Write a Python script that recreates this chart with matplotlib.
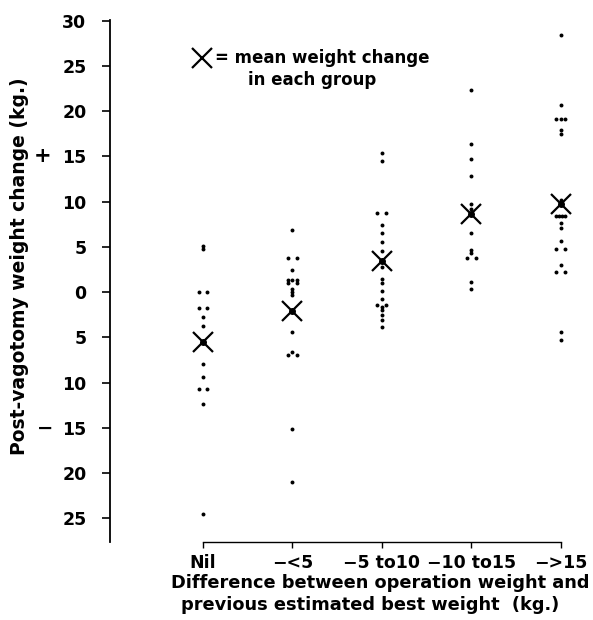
import numpy as np
import matplotlib
matplotlib.use("Agg")
import matplotlib.pyplot as plt

plt.rcParams['font.family'] = ['DejaVu Sans']
plt.rcParams['font.weight'] = 'bold'

# groups on the x axis
groups = ["Nil", "\u2212<5", "\u22125 to10", "\u221210 to15", "\u2212>15"]

# post-vagotomy weight change (kg), one list per group
nil_vals = [5.1, 4.8, 0.0, 0.0, -1.7, -1.7, -2.7, -3.7, -7.9, -9.4,
            -10.7, -10.7, -12.4, -24.5]
lt5_vals = [6.9, 3.8, 3.8, 2.4, 1.4, 1.4, 1.4, 1.0, 1.0, 0.4, 0.0, -0.3,
            -2.1, -4.4, -6.6, -6.9, -6.9, -15.1, -21.0]
g5to10_vals = [15.4, 14.5, 8.7, 8.7, 7.4, 6.5, 5.6, 4.6, 3.4, 2.8, 1.5, 1.0,
               0.15, -0.7, -1.4, -1.4, -1.6, -2.0, -2.5, -3.1, -3.9]
g10to15_vals = [22.3, 16.4, 14.7, 12.8, 9.8, 9.2, 8.6, 6.5, 4.7, 4.3,
                3.8, 3.8, 1.1, 0.3]
gt15_vals = [28.4, 20.7, 19.1, 19.1, 19.1, 17.9, 17.5, 10.2, 9.8,
             8.4, 8.4, 8.4, 8.4, 7.6, 7.1, 5.7, 4.8, 4.8, 3.0, 2.2, 2.2,
             -4.4, -5.3]
all_vals = [nil_vals, lt5_vals, g5to10_vals, g10to15_vals, gt15_vals]

# mean weight change in each group (the X marks)
means = [-5.5, -2.1, 3.5, 8.6, 9.8]

yticks = [30, 25, 20, 15, 10, 5, 0, -5, -10, -15, -20, -25]
ytick_labels = ["30", "25", "20", "15", "10", "5", "0", "5", "10", "15", "20", "25"]

fig = plt.figure(figsize=(5.93, 6.2), dpi=100)
ax = fig.add_axes([0.1855, 0.126, 0.79, 0.842])

for i, vals in enumerate(all_vals):
    xs = []
    ys = []
    # dots with equal values are set side by side
    for v in sorted(set(vals), reverse=True):
        n = vals.count(v)
        offs = np.linspace(-0.05, 0.05, n) if n > 1 else [0.0]
        for o in offs:
            xs.append(i + o)
            ys.append(v)
    ax.scatter(xs, ys, s=8, color='black', zorder=3, linewidths=0)

x_pos = np.arange(len(groups))
ax.plot(x_pos, means, linestyle='none', marker='x', markersize=15,
        markeredgewidth=1.6, color='black', zorder=4,
        label="= mean weight change")
ax.plot(x_pos, means, linestyle='none', marker='o', markersize=4,
        color='black', zorder=4)

ax.set_xlim(-1.04, 4.2)
ax.set_ylim(-27.6, 30.1)

ax.spines['top'].set_visible(False)
ax.spines['right'].set_visible(False)
ax.spines['bottom'].set_bounds(0, 4)
ax.spines['left'].set_linewidth(1.3)
ax.spines['bottom'].set_linewidth(1.0)

ax.set_yticks(yticks)
ax.set_yticklabels(ytick_labels, fontsize=12.5, fontweight='bold')
ax.tick_params(axis='y', direction='out', length=6, width=1.2, pad=11)
ax.set_xticks(x_pos)
ax.set_xticklabels(groups, fontsize=12.5, fontweight='bold')
ax.tick_params(axis='x', direction='out', length=4, width=1.0, pad=5)

# + and - signs beside the y axis
ax.text(-0.145, 15, "+", transform=ax.get_yaxis_transform(), fontsize=15,
        fontweight='bold', ha='center', va='center')
ax.text(-0.138, -15, "\u2212", transform=ax.get_yaxis_transform(), fontsize=14,
        fontweight='bold', ha='center', va='center')

leg = ax.legend(loc='upper left', bbox_to_anchor=(0.135, 0.972), frameon=False,
                handletextpad=0.0, handlelength=1.6,
                prop={'weight': 'bold', 'size': 12})
ax.text(0.295, 0.884, "in each group", transform=ax.transAxes, fontsize=12,
        fontweight='bold', ha='left', va='center')

fig.text(20 / 593, 1 - 266 / 620, "Post-vagotomy weight change (kg.)",
         rotation=90, ha='center', va='center', fontsize=13.5, fontweight='bold')
fig.text(380 / 593, 1 - 583 / 620, "Difference between operation weight and",
         ha='center', va='center', fontsize=12.8, fontweight='bold')
fig.text(370 / 593, 1 - 605 / 620, "previous estimated best weight  (kg.)",
         ha='center', va='center', fontsize=12.8, fontweight='bold')

plt.savefig('out.png', format='png', dpi=100)
